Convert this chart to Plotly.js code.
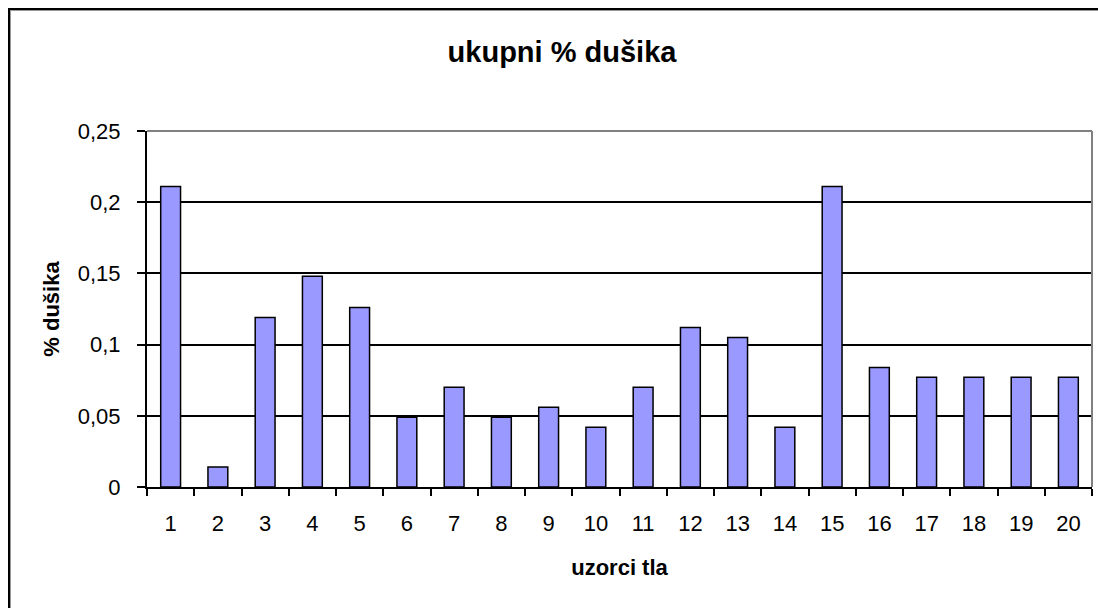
<!DOCTYPE html>
<html>
<head>
<meta charset="utf-8">
<script src="https://cdn.plot.ly/plotly-3.0.1.min.js"></script>
<style>
  html, body { margin: 0; padding: 0; background: #fff; overflow: hidden; }
  #wrap { position: relative; width: 1098px; height: 608px; }
  #chart { position: absolute; left: 0; top: 0; width: 1098px; height: 608px; }
  #frame { position: absolute; left: 8px; top: 8px; width: 2000px; height: 2000px;
           border-left: 2px solid #000; border-top: 2px solid #000;
           box-shadow: inset 1px 1px 0 #999; pointer-events: none; }
</style>
</head>
<body>
<div id="wrap">
  <div id="chart"></div>
  <div id="frame"></div>
</div>
<script>
const categories = ["1","2","3","4","5","6","7","8","9","10","11","12","13","14","15","16","17","18","19","20"];
const nitrogenPercent = [0.211, 0.014, 0.119, 0.148, 0.126, 0.049, 0.070, 0.049, 0.056, 0.042,
                         0.070, 0.112, 0.105, 0.042, 0.211, 0.084, 0.077, 0.077, 0.077, 0.077];
const yTickVals = [0, 0.05, 0.1, 0.15, 0.2, 0.25];
const yTickText = ["0", "0,05", "0,1", "0,15", "0,2", "0,25"];
const chartTitle = "ukupni % dušika";
const xTitle = "uzorci tla";
const yTitle = "% dušika";

const font = "Liberation Sans, Arial, sans-serif";

const trace = {
  type: "bar",
  x: categories,
  y: nitrogenPercent,
  marker: { color: "#9999FF", line: { color: "#000", width: 1.5 } },
  hoverinfo: "x+y"
};

const layout = {
  width: 1098, height: 608,
  margin: { l: 147, r: 6, t: 131, b: 121 },
  paper_bgcolor: "rgba(0,0,0,0)",
  plot_bgcolor: "#fff",
  showlegend: false,
  bargap: 0.58,
  font: { family: font, color: "#000", size: 22 },
  title: {
    text: chartTitle,
    font: { family: font, size: 29, weight: "bold", color: "#000" },
    xref: "container", yref: "container",
    x: 562 / 1098, xanchor: "center",
    y: 1 - 52 / 608, yanchor: "middle"
  },
  xaxis: {
    type: "category",
    tickson: "boundaries",
    ticks: "outside", ticklen: 7, tickwidth: 2, tickcolor: "#000",
    showline: true, linecolor: "#000", linewidth: 2,
    showgrid: false, zeroline: false,
    tickfont: { family: font, size: 22, color: "#000" },
    ticklabelstandoff: 16,
    title: { text: xTitle, font: { family: font, size: 22, weight: "bold", color: "#000" }, standoff: 24 }
  },
  yaxis: {
    range: [0, 0.25],
    tickvals: yTickVals, ticktext: yTickText,
    ticks: "outside", ticklen: 8, tickwidth: 2, tickcolor: "#000",
    showline: true, linecolor: "#000", linewidth: 2,
    showgrid: true, gridcolor: "#000", gridwidth: 2,
    zeroline: false,
    tickfont: { family: font, size: 22, color: "#000" },
    ticklabelstandoff: 12,
    title: { text: yTitle, font: { family: font, size: 22, weight: "bold", color: "#000" }, standoff: 12 }
  },
  shapes: [
    { type: "line", xref: "paper", yref: "paper", x0: 0, x1: 1, y0: 1, y1: 1,
      line: { color: "#808080", width: 2 }, layer: "above" },
    { type: "line", xref: "paper", yref: "paper", x0: 1, x1: 1, y0: 0, y1: 1,
      line: { color: "#808080", width: 2 }, layer: "above" }
  ]
};

Plotly.newPlot("chart", [trace], layout, { displayModeBar: false, staticPlot: true });
</script>
</body>
</html>
